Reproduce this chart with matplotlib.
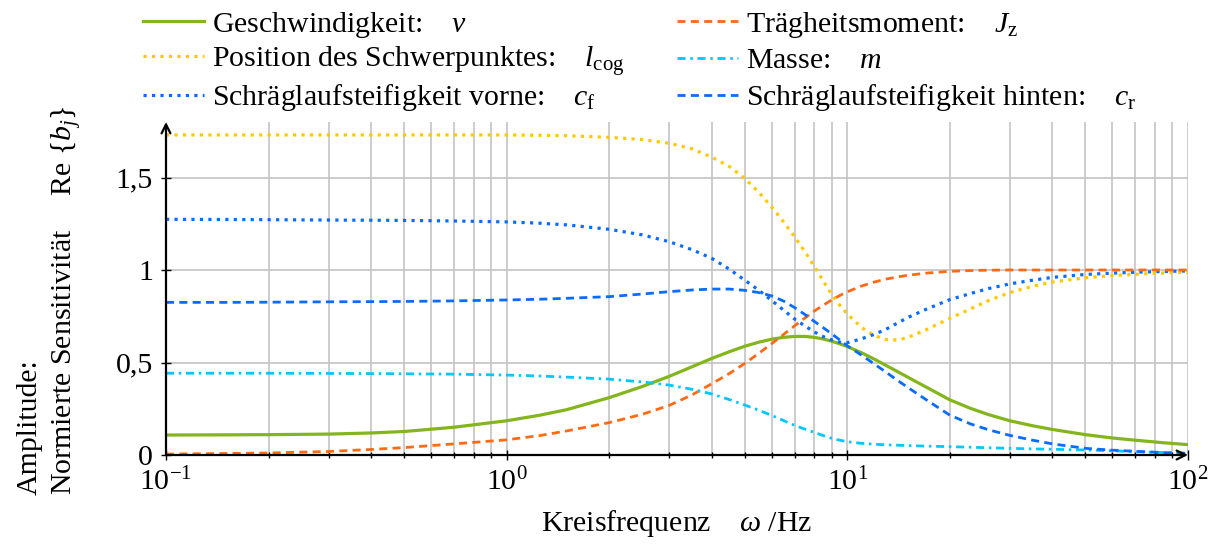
import numpy as np
import matplotlib.pyplot as plt

plt.rcParams["font.family"] = ["Liberation Serif", "DejaVu Serif"]
plt.rcParams["mathtext.fontset"] = "custom"
plt.rcParams["mathtext.rm"] = "Liberation Serif"
plt.rcParams["mathtext.it"] = "Liberation Serif:italic"
plt.rcParams["mathtext.bf"] = "Liberation Serif:bold"

FS = 21.5

# frequency grid (Hz) shared by all sensitivities
freq = [0.1, 0.15, 0.2, 0.3, 0.4, 0.5, 0.7, 1, 1.25, 1.5, 2, 2.5, 3, 3.5, 4,
        4.5, 5, 5.5, 6, 6.5, 7, 7.5, 8, 8.5, 9, 9.5, 10, 11, 12, 13, 14, 15,
        17, 20, 23, 26, 30, 35, 40, 50, 60, 70, 85, 100]

sens_v = [0.108, 0.109, 0.110, 0.113, 0.119, 0.127, 0.150, 0.185, 0.215, 0.245,
          0.31, 0.37, 0.425, 0.477, 0.522, 0.558, 0.588, 0.610, 0.626, 0.636,
          0.641, 0.641, 0.636, 0.627, 0.615, 0.601, 0.586, 0.553, 0.518, 0.484,
          0.452, 0.422, 0.368, 0.298, 0.252, 0.218, 0.185, 0.158, 0.138, 0.110,
          0.092, 0.080, 0.066, 0.056]
sens_lcog = [1.73, 1.73, 1.73, 1.73, 1.73, 1.73, 1.73, 1.73, 1.728, 1.726,
             1.717, 1.705, 1.685, 1.655, 1.61, 1.56, 1.495, 1.42, 1.34, 1.26,
             1.18, 1.10, 1.02, 0.94, 0.868, 0.81, 0.762, 0.69, 0.645, 0.624,
             0.622, 0.634, 0.676, 0.739, 0.79, 0.835, 0.878, 0.912, 0.935,
             0.958, 0.97, 0.977, 0.984, 0.988]
sens_cf = [1.274, 1.273, 1.272, 1.27, 1.269, 1.268, 1.265, 1.26, 1.253, 1.244,
           1.22, 1.19, 1.153, 1.11, 1.063, 1.005, 0.945, 0.89, 0.835, 0.783,
           0.735, 0.698, 0.665, 0.64, 0.622, 0.61, 0.607, 0.628, 0.652, 0.68,
           0.712, 0.742, 0.787, 0.84, 0.873, 0.9, 0.925, 0.945, 0.96, 0.976,
           0.983, 0.988, 0.992, 0.995]
sens_jz = [0.005, 0.008, 0.011, 0.019, 0.03, 0.04, 0.06, 0.082, 0.105, 0.13,
           0.175, 0.22, 0.268, 0.325, 0.385, 0.44, 0.495, 0.55, 0.602, 0.652,
           0.698, 0.74, 0.778, 0.81, 0.838, 0.862, 0.882, 0.913, 0.935, 0.951,
           0.962, 0.971, 0.983, 0.993, 0.997, 0.999, 1.0, 1.0, 1.0, 1.0,
           1.0, 1.0, 1.0, 1.0]
sens_m = [0.442, 0.442, 0.442, 0.441, 0.44, 0.439, 0.437, 0.432, 0.427, 0.421,
          0.41, 0.395, 0.378, 0.355, 0.33, 0.30, 0.27, 0.242, 0.214, 0.186,
          0.16, 0.14, 0.122, 0.105, 0.09, 0.08, 0.072, 0.063, 0.058, 0.055,
          0.053, 0.051, 0.048, 0.045, 0.042, 0.039, 0.036, 0.033, 0.031, 0.027,
          0.023, 0.018, 0.013, 0.009]
sens_cr = [0.825, 0.825, 0.826, 0.828, 0.829, 0.83, 0.833, 0.838, 0.842, 0.847,
           0.856, 0.87, 0.883, 0.892, 0.897, 0.897, 0.89, 0.878, 0.86, 0.832,
           0.797, 0.76, 0.722, 0.688, 0.655, 0.622, 0.59, 0.54, 0.492, 0.447,
           0.405, 0.367, 0.30, 0.215, 0.168, 0.136, 0.106, 0.08, 0.06, 0.036,
           0.026, 0.02, 0.013, 0.009]

labels = [
    r"Geschwindigkeit: $\quad v$",
    r"Position des Schwerpunktes: $\quad l_{\mathrm{cog}}$",
    r"Schräglaufsteifigkeit vorne: $\quad c_{\mathrm{f}}$",
    r"Trägheitsmoment: $\quad J_{\mathrm{z}}$",
    r"Masse: $\quad m$",
    r"Schräglaufsteifigkeit hinten: $\quad c_{\mathrm{r}}$",
]

fig = plt.figure(figsize=(12.09, 5.46), dpi=100)
ax = fig.add_axes([166 / 1209, 91 / 546, 1022 / 1209, 333 / 546])

dotted = (0, (1.0, 1.65))
dashed = (0, (2.9, 1.9))
dashdot = (0, (2.9, 1.7, 0.9, 1.7))
series = [
    (sens_v, dict(color="#84b51c", lw=2.3, ls="-")),
    (sens_lcog, dict(color="#ffc800", lw=2.3, ls=dotted)),
    (sens_cf, dict(color="#0a6cff", lw=2.3, ls=dotted)),
    (sens_jz, dict(color="#ff6a13", lw=2.0, ls=dashed)),
    (sens_m, dict(color="#00c8ff", lw=2.0, ls=dashdot)),
    (sens_cr, dict(color="#0a6cff", lw=2.0, ls=dashed)),
]
handles = []
for vals, style in series:
    h, = ax.plot(freq, vals, **style, zorder=3)
    handles.append(h)

ax.set_xscale("log")
ax.set_xlim(0.1, 100)
ax.set_ylim(0, 1.80)
ax.set_yticks([0, 0.5, 1, 1.5])
ax.set_yticklabels(["0", "0,5", "1", "1,5"])
ax.grid(True, which="major", color="#c4c4c4", lw=1.2)
ax.grid(True, which="minor", axis="x", color="#c4c4c4", lw=1.2)
ax.tick_params(which="both", direction="inout", colors="k", labelsize=FS, width=1)
ax.tick_params(which="major", length=7)
ax.tick_params(which="minor", length=5)
ax.tick_params(axis="x", pad=6)
ax.tick_params(axis="y", pad=6)

for s in ax.spines.values():
    s.set_visible(False)
arrow = dict(arrowstyle="->", lw=1.6, color="k", shrinkA=0, shrinkB=0,
             mutation_scale=16)
ax.annotate("", xy=(1.0, 0), xytext=(0, 0), xycoords="axes fraction",
            arrowprops=arrow, annotation_clip=False)
ax.annotate("", xy=(0, 1.0), xytext=(0, 0), xycoords="axes fraction",
            arrowprops=arrow, annotation_clip=False)

ax.set_xlabel(r"Kreisfrequenz $\quad\omega$ /Hz", fontsize=FS, labelpad=8)

fig.text(30 / 1209, 51 / 546, "Amplitude:", rotation=90, ha="center",
         va="bottom", fontsize=FS)
fig.text(66 / 1209, 51 / 546,
         r"Normierte Sensitivität $\quad\;\mathrm{Re}\ \{b_j\}$", rotation=90,
         ha="center", va="bottom", fontsize=FS)

# one legend per entry so every row sits at the same height in both columns
row_y = [24.5, 61, 97.5]
col_x = [143, 677]
for i, (h, lab) in enumerate(zip(handles, labels)):
    col, row = divmod(i, 3)
    fig.legend([h], [lab], loc="center left",
               bbox_to_anchor=(col_x[col] / 1209, 1 - row_y[row] / 546),
               frameon=False, fontsize=FS, borderpad=0, borderaxespad=0,
               handlelength=2.05, handletextpad=0.27)

fig.savefig("out.png", dpi=100)
